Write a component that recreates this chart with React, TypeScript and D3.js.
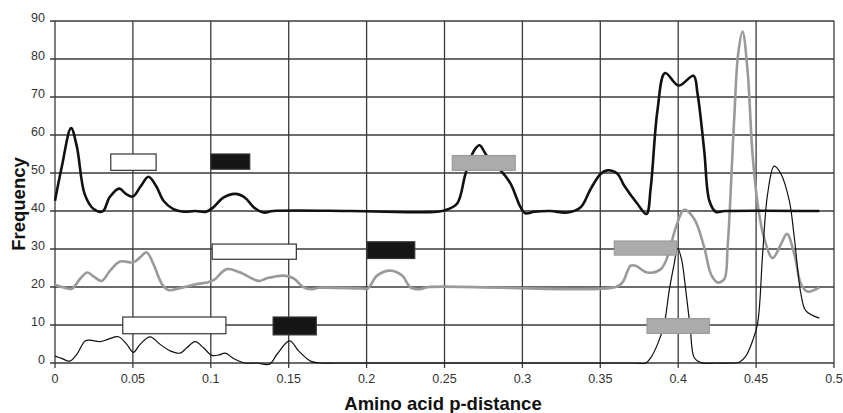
import React, { useRef, useEffect } from 'react';
import * as d3 from 'd3';

type Pt = [number, number];

// black thick curve (upper group, baseline 40)
const upperSeries: Pt[] = [
  [0, 42.7], [0.0043, 51.5], [0.0103, 61.8], [0.014, 57], [0.019, 44.5], [0.0246, 40.6],
  [0.0306, 39.9], [0.035, 43.6], [0.0413, 45.9], [0.0455, 44.5], [0.05, 43.8], [0.055, 46.5],
  [0.06, 49], [0.065, 46.5], [0.0696, 42.7], [0.076, 40.5], [0.0825, 39.8], [0.09, 40],
  [0.097, 39.8], [0.1017, 41], [0.108, 43.5], [0.1157, 44.5], [0.122, 43.5], [0.1275, 41],
  [0.134, 39.6], [0.14, 40], [0.19, 40], [0.241, 39.7], [0.2496, 40.1], [0.258, 41.9],
  [0.2635, 49.8], [0.269, 55.9], [0.2725, 57.3], [0.2764, 55], [0.281, 52.5], [0.286, 50.7],
  [0.2924, 47.2], [0.2988, 41], [0.302, 39.4], [0.3075, 39.8], [0.318, 40], [0.3288, 39.6],
  [0.3374, 41], [0.3438, 45.8], [0.3503, 49.8], [0.3545, 50.7], [0.361, 49.8], [0.3653, 46.7],
  [0.3738, 41.9], [0.3796, 39.2], [0.3824, 46.3], [0.3867, 66.5], [0.3916, 76.3], [0.4002, 73],
  [0.4098, 75.6], [0.4124, 70.9], [0.4167, 55.9], [0.42, 42.7], [0.4241, 39.8], [0.43, 40],
  [0.4906, 40],
];

// grey thick curve (middle group, baseline 20)
const middleSeries: Pt[] = [
  [0, 20.6], [0.0054, 19.9], [0.0107, 19.5], [0.016, 22.1], [0.0208, 23.8], [0.025, 22.7],
  [0.03, 21.6], [0.0353, 24.3], [0.0418, 26.7], [0.0503, 26.5], [0.0546, 27.8], [0.0589, 29.1],
  [0.0632, 26], [0.0686, 20.8], [0.0728, 19.2], [0.0803, 19.7], [0.0889, 20.6], [0.0975, 21.2],
  [0.1017, 21.8], [0.1103, 24.7], [0.1189, 23.8], [0.1307, 21.6], [0.136, 22.3], [0.1467, 23],
  [0.153, 22.3], [0.1596, 19.9], [0.164, 19.4], [0.17, 19.8], [0.196, 19.6], [0.2007, 19.6],
  [0.2067, 23], [0.2153, 24.3], [0.2228, 23], [0.2281, 19.9], [0.2335, 19.4], [0.24, 20],
  [0.36, 20], [0.3642, 21.2], [0.3695, 25.6], [0.3727, 25.6], [0.3803, 23.8], [0.3888, 24.7],
  [0.393, 27.8], [0.3985, 35.7], [0.4038, 40.3], [0.4103, 37.9], [0.4167, 30.4], [0.421, 23.4],
  [0.4253, 21.2], [0.4296, 22.1], [0.4317, 30.4], [0.4359, 63.9], [0.4385, 81.4], [0.4413, 87.2],
  [0.4445, 77], [0.4477, 55], [0.451, 41.9], [0.455, 33.1], [0.4606, 27.6], [0.466, 31.3],
  [0.4698, 34], [0.4745, 28.7], [0.4788, 20.8], [0.483, 18.8], [0.4906, 19.9],
];

// black thin curve (lower group, baseline 0)
const lowerSeries: Pt[] = [
  [0, 1.8], [0.0043, 1.2], [0.0096, 0.5], [0.014, 2.3], [0.0193, 5.8], [0.0225, 6],
  [0.0289, 5.6], [0.0343, 6.3], [0.0407, 6.9], [0.0461, 4.9], [0.0503, 2.8], [0.0546, 4.9],
  [0.061, 6.9], [0.0675, 4.9], [0.0739, 3.2], [0.0803, 2.6], [0.0846, 4], [0.09, 5.6],
  [0.0953, 4], [0.1007, 2], [0.105, 2.1], [0.1093, 2.6], [0.1146, 1.2], [0.1221, 0],
  [0.1296, 0], [0.1377, -0.3], [0.1425, 2.3], [0.1506, 5.8], [0.1564, 3.2], [0.164, 0.5],
  [0.1703, 0], [0.18, 0], [0.3717, 0], [0.3792, 0], [0.3824, 1.4], [0.3867, 4.9],
  [0.391, 10.2], [0.3942, 19], [0.3974, 26], [0.3996, 30.2], [0.4021, 27.4], [0.4049, 19],
  [0.4077, 9.3], [0.4103, 1.4], [0.4145, 0.1], [0.4253, 0], [0.4338, 0], [0.4392, 0.2],
  [0.4434, 1.8], [0.4477, 5.8], [0.451, 10.5], [0.4542, 28.7], [0.4574, 44.5], [0.4616, 51.8],
  [0.4659, 49.8], [0.4713, 42.7], [0.4745, 33.1], [0.4788, 18.1], [0.482, 13.7], [0.4906, 11.8],
];

// range boxes: [x0, x1, y0, y1, kind]
type Box = [number, number, number, number, 'white' | 'black' | 'grey'];
const upperBoxes: Box[] = [
  [0.0358, 0.0649, 50.7, 55, 'white'],
  [0.1, 0.125, 51, 55, 'black'],
  [0.255, 0.2954, 50.7, 54.6, 'grey'],
];
const middleBoxes: Box[] = [
  [0.1009, 0.1549, 27.3, 31.3, 'white'],
  [0.2003, 0.2309, 27.5, 31.9, 'black'],
  [0.359, 0.399, 28.4, 32.1, 'grey'],
];
const lowerBoxes: Box[] = [
  [0.0435, 0.1097, 7.7, 12.1, 'white'],
  [0.14, 0.1677, 7.4, 12.1, 'black'],
  [0.38, 0.42, 7.8, 11.7, 'grey'],
];

const xTicks = [0, 0.05, 0.1, 0.15, 0.2, 0.25, 0.3, 0.35, 0.4, 0.45, 0.5];
const yTicks = [0, 10, 20, 30, 40, 50, 60, 70, 80, 90];

const App: React.FC = () => {
  const ref = useRef<SVGSVGElement>(null);

  useEffect(() => {
    if (!ref.current) return;
    const root = d3.select(ref.current);
    root.selectAll('*').remove();

    const W = 843, H = 413;
    const margin = { top: 21, right: 9, bottom: 50, left: 55 };
    const width = W - margin.left - margin.right;
    const height = H - margin.top - margin.bottom;
    const font = 'Liberation Sans, Arial, sans-serif';
    const gridColor = '#3a3a3a';

    const g = root.append('g').attr('transform', `translate(${margin.left},${margin.top})`);

    const x = d3.scaleLinear().domain([0, 0.5]).range([0, width]);
    const y = d3.scaleLinear().domain([0, 90]).range([height, 0]);

    // grid
    g.append('g')
      .selectAll('line.h')
      .data(yTicks)
      .enter()
      .append('line')
      .attr('x1', -5)
      .attr('x2', width)
      .attr('y1', d => y(d))
      .attr('y2', d => y(d))
      .attr('stroke', gridColor)
      .attr('stroke-width', 1.3);
    g.append('g')
      .selectAll('line.v')
      .data(xTicks)
      .enter()
      .append('line')
      .attr('x1', d => x(d))
      .attr('x2', d => x(d))
      .attr('y1', 0)
      .attr('y2', height + 5)
      .attr('stroke', gridColor)
      .attr('stroke-width', 1.3);

    // tick labels
    g.append('g')
      .selectAll('text')
      .data(yTicks)
      .enter()
      .append('text')
      .attr('x', -10)
      .attr('y', d => y(d) + 1)
      .attr('text-anchor', 'end')
      .style('font-family', font)
      .style('font-size', '12.5px')
      .style('fill', '#333')
      .text(d => String(d));
    g.append('g')
      .selectAll('text')
      .data(xTicks)
      .enter()
      .append('text')
      .attr('x', d => x(d))
      .attr('y', height + 20)
      .attr('text-anchor', 'middle')
      .style('font-family', font)
      .style('font-size', '12.5px')
      .style('fill', '#333')
      .text(d => String(d));

    // curves
    const line = d3.line<Pt>()
      .x(d => x(d[0]))
      .y(d => y(d[1]))
      .curve(d3.curveCatmullRom.alpha(0.5));

    g.append('path').datum(middleSeries).attr('d', line)
      .attr('fill', 'none').attr('stroke', '#9a9a9a').attr('stroke-width', 2.6);
    g.append('path').datum(upperSeries).attr('d', line)
      .attr('fill', 'none').attr('stroke', '#111').attr('stroke-width', 2.6);
    g.append('path').datum(lowerSeries).attr('d', line)
      .attr('fill', 'none').attr('stroke', '#111').attr('stroke-width', 1.2);

    // boxes
    const fills = { white: '#fff', black: '#161616', grey: '#ababab' };
    const strokes = { white: '#333', black: '#333', grey: '#9a9a9a' };
    g.append('g')
      .selectAll('rect')
      .data([...upperBoxes, ...middleBoxes, ...lowerBoxes])
      .enter()
      .append('rect')
      .attr('x', d => x(d[0]))
      .attr('y', d => y(d[3]))
      .attr('width', d => x(d[1]) - x(d[0]))
      .attr('height', d => y(d[2]) - y(d[3]))
      .attr('fill', d => fills[d[4]])
      .attr('stroke', d => strokes[d[4]])
      .attr('stroke-width', 1.2);

    // axis titles
    root.append('text')
      .attr('x', 443)
      .attr('y', 410)
      .attr('text-anchor', 'middle')
      .style('font-family', font)
      .style('font-size', '18.5px')
      .style('font-weight', 'bold')
      .style('fill', '#111')
      .text('Amino acid p-distance');
    root.append('text')
      .attr('transform', `translate(25,204) rotate(-90)`)
      .attr('text-anchor', 'middle')
      .style('font-family', font)
      .style('font-size', '18.5px')
      .style('font-weight', 'bold')
      .style('fill', '#111')
      .text('Frequency');
  }, []);

  return (
    <svg
      ref={ref}
      width={843}
      height={413}
      style={{ position: 'absolute', left: 0, top: 0, background: '#fff' }}
    />
  );
};

export default App;
